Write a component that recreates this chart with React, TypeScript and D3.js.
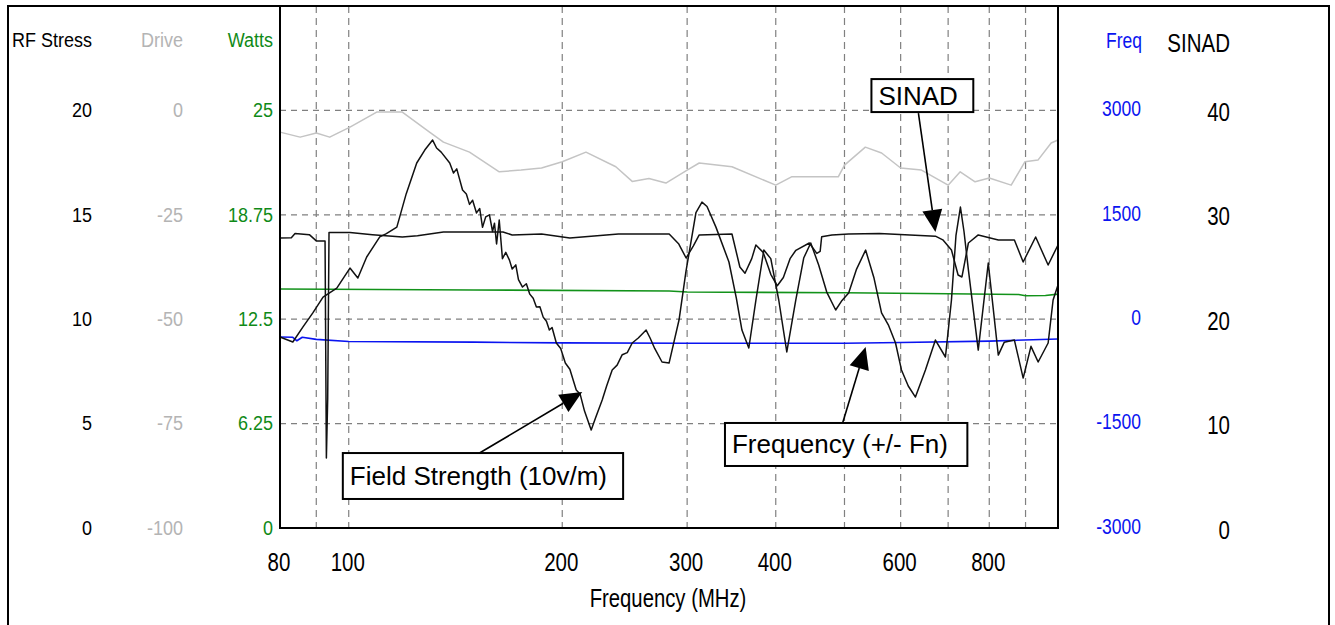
import * as d3 from 'd3'

// ── 축 눈금 ──
const rfTicks = [0, 5, 10, 15, 20]
const driveTicks = [-100, -75, -50, -25, 0]
const wattTicks = [0, 6.25, 12.5, 18.75, 25]
const freqTicks = [-3000, -1500, 0, 1500, 3000]
const sinadTicks = [0, 10, 20, 30, 40]
const xLabelTicks = [80, 100, 200, 300, 400, 600, 800]
const xGridTicks = [90, 100, 200, 300, 400, 500, 600, 700, 800, 900]

// ── 시리즈 [MHz, 값] ──
const fieldStrength: [number, number][] = [
  [80, 9.15], [83.4, 8.91], [86.2, 9.63], [89.0, 10.3], [92.0, 11.06], [96.2, 11.49],
  [100.4, 12.45], [103.0, 11.97], [106.0, 12.98], [110.6, 13.94], [113, 14.1], [116.9, 14.41],
  [120.5, 16.0], [124.7, 17.48], [128, 18.1], [131.3, 18.58], [133, 18.2], [135, 18.0],
  [138.8, 17.48], [140.5, 17.0], [142, 17.2], [144.7, 16.19], [146.5, 16.0], [148, 15.5],
  [149.5, 15.7], [151.4, 15.09], [153, 15.3], [154.4, 14.4], [156, 14.9], [157.9, 15.0],
  [159.5, 14.2], [160.5, 14.6], [161.6, 13.6], [163.0, 14.75], [164.7, 12.9], [166.5, 13.2],
  [168.5, 12.83], [170, 12.4], [172, 12.6], [173.5, 11.9], [175.8, 11.54], [178, 11.7],
  [180, 11.2], [182, 11.0], [183.9, 10.58], [186, 10.6], [188, 10.1], [190, 9.9],
  [191.8, 9.48], [193.5, 9.6], [196.2, 8.86], [199, 8.6], [202, 7.9], [205, 7.6],
  [209.3, 6.61], [212, 6.4], [215, 5.6], [219.7, 4.69], [223, 5.3], [227.7, 6.13],
  [231, 6.8], [235.2, 7.57], [239, 7.8], [243, 8.3], [247, 8.4], [251.0, 8.86], [256, 9.1],
  [262.6, 9.48], [266, 9.1], [270, 8.6], [276.5, 7.95], [282.9, 7.9], [292.2, 9.96],
  [298.9, 12.3], [308.7, 15.1], [314.8, 15.61], [320, 15.4], [329.4, 14.41], [343.6, 12.74],
  [352, 11.0], [358.4, 9.48], [366.5, 8.62], [375.0, 10.9], [384.8, 13.31], [393.6, 12.9],
  [403.9, 10.92], [414.6, 8.43], [426.8, 10.9], [438.0, 12.93], [448.1, 13.65], [459.8, 12.6],
  [472, 11.3], [485.9, 10.44], [496, 10.9], [506.8, 11.25], [520, 12.4], [535.5, 13.31],
  [550, 12.0], [563.9, 10.3], [577, 9.7], [590.1, 8.86], [601.6, 7.57], [615, 6.8],
  [629.5, 6.27], [650.3, 7.57], [671.7, 9.0], [693.9, 8.19], [707.6, 10.92], [718, 14.0],
  [728.5, 15.37], [737, 14.2], [747.6, 12.36], [771.9, 8.52], [797.4, 12.69], [823.8, 8.28],
  [840, 8.9], [868, 9.0], [893.1, 7.18], [916, 8.7], [937.6, 7.95], [968.5, 8.86],
  [984.2, 10.92], [1000, 11.64],
]

const sinad: [number, number][] = [
  [80, 27.78], [83, 27.8], [84, 28.2], [88, 28.1], [90, 27.5], [92.6, 27.5], [93.0, 6.7],
  [93.4, 12.4], [93.8, 28.3], [100.4, 28.3], [108, 28.1], [119, 27.87], [125, 28.0],
  [136, 28.35], [165, 28.35], [170, 28.07], [187, 28.16], [205, 27.78], [240, 28.16],
  [283, 28.16], [292, 27.2], [299, 25.86], [306, 27.0], [312, 28.07], [347, 28.16],
  [356, 25.0], [362, 24.4], [370, 25.8], [375, 27.11], [384, 26.4], [393.6, 24.3],
  [402, 23.2], [410, 24.0], [419, 25.8], [427, 26.6], [446, 27.3], [457, 26.3], [462, 26.5],
  [464.3, 27.9], [480, 28.07], [506.8, 28.16], [560, 28.2], [671.7, 27.95], [688, 27.6],
  [707.6, 26.63], [723, 24.23], [732, 24.04], [747.6, 27.3], [771.9, 28.07], [823.8, 27.59],
  [868, 27.59], [893.1, 25.48], [930, 27.87], [968.5, 25.19], [1000, 27.11],
]

const drive: [number, number][] = [
  [80, -5.2], [85.4, -6.4], [90, -5.4], [94, -6.4], [100.4, -4.0], [109.5, -0.4], [119, -0.4],
  [130, -5.2], [136, -7.6], [148, -10], [163, -14.7], [175, -14.3], [187, -13.8], [200, -12.3],
  [216, -10.0], [238, -13.5], [251, -17.0], [265, -16.3], [280, -17.4], [300, -14.3],
  [312, -12.6], [347, -13.5], [400, -17.9], [421, -15.9], [490, -15.9], [500, -13.1],
  [535, -8.8], [564, -10.2], [600, -13.8], [642, -14.3], [700, -17.9], [728, -14.7],
  [764, -17.1], [800, -16.2], [859, -17.9], [898, -12.3], [937, -11.9], [978, -7.8],
  [1000, -7.1],
]

const watts: [number, number][] = [
  [80, 14.31], [150, 14.25], [283, 14.19], [300, 14.13], [500, 14.08], [700, 14.02],
  [880, 13.98], [900, 13.9], [960, 13.92], [1000, 14.0],
]

const freqDev: [number, number][] = [
  [80, -256], [83.4, -260], [84.5, -310], [86, -260], [90, -290], [100, -320], [150, -330],
  [200, -340], [300, -345], [500, -345], [600, -335], [800, -315], [1000, -285],
]

// 주석: 상자 [좌 MHz, 우 MHz, 상 RF, 하 RF], 화살표 시작/끝 [MHz, RF]
const notes = [
  { text: 'SINAD', box: [545.7, 759.6, 21.5, 19.92], from: [635.6, 19.87], to: [671.7, 14.18] },
  { text: 'Field Strength (10v/m)', box: [98.1, 243.7, 3.59, 1.39], from: [152.9, 3.59], to: [213.4, 6.51] },
  { text: 'Frequency (+/- Fn)', box: [339.2, 745.1, 5.03, 2.97], from: [497.0, 5.03], to: [535.5, 8.67] },
]

const W = 1335
const H = 625
const P = { left: 280, right: 1058, top: 6, bottom: 528 }

const x = d3.scaleLog().domain([80, 1000]).range([P.left, P.right])
const yRF = d3.scaleLinear().domain([0, 25]).range([P.bottom, P.top])
const yDrive = d3.scaleLinear().domain([-100, 25]).range([P.bottom, P.top])
const yWatt = d3.scaleLinear().domain([0, 31.25]).range([P.bottom, P.top])
const yFreq = d3.scaleLinear().domain([-3000, 4500]).range([P.bottom, P.top])
const ySinad = d3.scaleLinear().domain([0, 50]).range([P.bottom, P.top])

const FONT = 'Arial, "Liberation Sans", sans-serif'

function pathOf(data: [number, number][], y: d3.ScaleLinear<number, number>) {
  return d3.line<[number, number]>().x((d) => x(d[0])).y((d) => y(d[1]))(data) ?? ''
}

function Label({ tx, ty, text, size, sy, fill, anchor = 'end' }: {
  tx: number; ty: number; text: string; size: number; sy: number; fill: string; anchor?: string
}) {
  return (
    <text transform={`translate(${tx},${ty}) scale(1,${sy})`} textAnchor={anchor}
      dominantBaseline="central" fontSize={size} fontFamily={FONT} fill={fill}>{text}</text>
  )
}

export default function App() {
  const series = [
    { d: drive, y: yDrive, c: '#c4c4c4', w: 1.5 },
    { d: watts, y: yWatt, c: '#12921a', w: 1.6 },
    { d: freqDev, y: yFreq, c: '#0a14f0', w: 1.6 },
    { d: sinad, y: ySinad, c: '#111', w: 1.5 },
    { d: fieldStrength, y: yRF, c: '#111', w: 1.5 },
  ]

  return (
    <svg width={W} height={H} style={{ position: 'absolute', left: 0, top: 0, background: '#fff' }}>
      <rect x={8} y={6} width={1321} height={660} fill="#fff" stroke="#000" strokeWidth={2} />

      {/* 격자 */}
      {wattTicks.filter((t) => t > 0).map((t) => (
        <line key={'h' + t} x1={P.left} x2={P.right} y1={yWatt(t)} y2={yWatt(t)}
          stroke="#808080" strokeWidth={1.2} strokeDasharray="6 5" />
      ))}
      {xGridTicks.map((t) => (
        <line key={'v' + t} x1={x(t)} x2={x(t)} y1={P.top} y2={P.bottom}
          stroke="#808080" strokeWidth={1.2} strokeDasharray="7 5" />
      ))}

      {/* 곡선 */}
      {series.map((s, i) => (
        <path key={i} d={pathOf(s.d, s.y)} fill="none" stroke={s.c} strokeWidth={s.w}
          strokeLinejoin="round" />
      ))}

      <rect x={P.left} y={P.top} width={P.right - P.left} height={P.bottom - P.top}
        fill="none" stroke="#000" strokeWidth={2} />

      {/* 왼쪽 축 */}
      <Label tx={92} ty={40} text="RF Stress" size={18} sy={1.1} fill="#000" />
      <Label tx={183} ty={40} text="Drive" size={18} sy={1.1} fill="#b4b4b4" />
      <Label tx={273} ty={40} text="Watts" size={18} sy={1.1} fill="#0f8a17" />
      {rfTicks.map((t) => <Label key={'rf' + t} tx={92} ty={yRF(t)} text={String(t)} size={18} sy={1.1} fill="#000" />)}
      {driveTicks.map((t) => <Label key={'dr' + t} tx={183} ty={yDrive(t)} text={String(t)} size={18} sy={1.1} fill="#b4b4b4" />)}
      {wattTicks.map((t) => <Label key={'w' + t} tx={273} ty={yWatt(t)} text={String(t)} size={18} sy={1.1} fill="#0f8a17" />)}

      {/* 오른쪽 축 */}
      <Label tx={1142} ty={40} text="Freq" size={17.5} sy={1.25} fill="#0a14f0" />
      <Label tx={1230} ty={42} text="SINAD" size={20.5} sy={1.3} fill="#000" />
      {freqTicks.map((t) => <Label key={'f' + t} tx={1141} ty={yFreq(t) - 2} text={String(t)} size={17.5} sy={1.25} fill="#0a14f0" />)}
      {sinadTicks.map((t) => <Label key={'s' + t} tx={1230} ty={ySinad(t) + 1} text={String(t)} size={20.5} sy={1.3} fill="#000" />)}

      {/* X 축 */}
      {xLabelTicks.map((t) => (
        <Label key={'x' + t} tx={x(t) - 1} ty={561} text={String(t)} size={20.5} sy={1.3} fill="#000" anchor="middle" />
      ))}
      <Label tx={668} ty={598} text="Frequency (MHz)" size={20.3} sy={1.3} fill="#000" anchor="middle" />

      {/* 주석 */}
      {notes.map((n) => {
        const [l, r, t, b] = n.box
        const x0 = x(n.from[0]), y0 = yRF(n.from[1])
        const x1 = x(n.to[0]), y1 = yRF(n.to[1])
        const len = Math.hypot(x1 - x0, y1 - y0)
        const ux = (x1 - x0) / len, uy = (y1 - y0) / len
        const hl = 22, hw = 10
        const bx = x1 - ux * hl, by = y1 - uy * hl
        const head = `${x1},${y1} ${bx - uy * hw},${by + ux * hw} ${bx + uy * hw},${by - ux * hw}`
        return (
          <g key={n.text}>
            <line x1={x0} y1={y0} x2={bx} y2={by} stroke="#000" strokeWidth={1.6} />
            <polygon points={head} fill="#000" />
            <rect x={x(l)} y={yRF(t)} width={x(r) - x(l)} height={yRF(b) - yRF(t)}
              fill="#fff" stroke="#000" strokeWidth={2} />
            <text x={x(l) + 7} y={(yRF(t) + yRF(b)) / 2} dominantBaseline="central"
              fontSize={26} fontFamily={FONT} fill="#000">{n.text}</text>
          </g>
        )
      })}
    </svg>
  )
}
